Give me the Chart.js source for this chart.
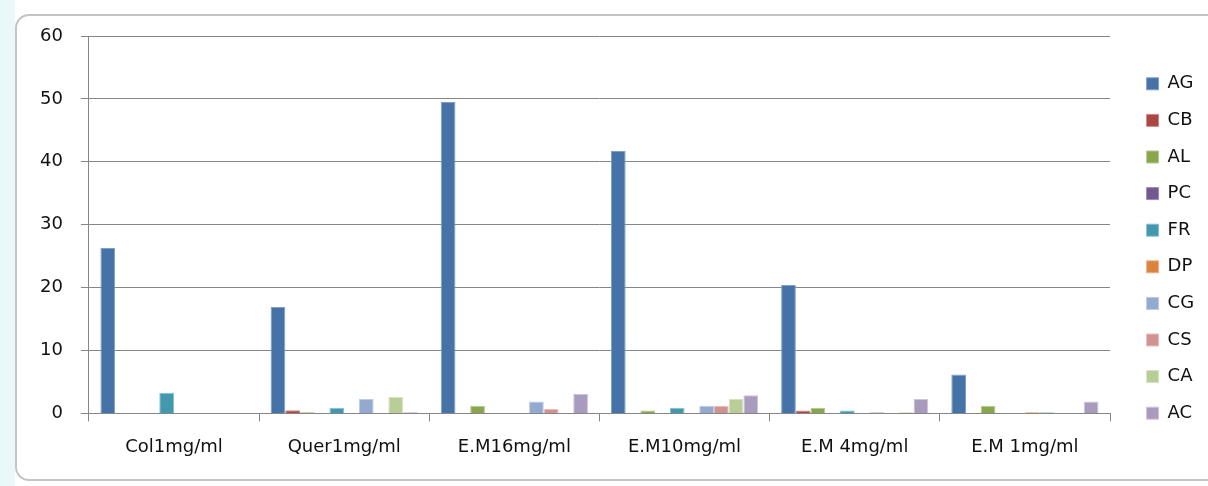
<!DOCTYPE html>
<html>
<head>
<meta charset="utf-8">
<script src="https://cdn.jsdelivr.net/npm/chart.js@4.4.1/dist/chart.umd.min.js"></script>
<style>
  html, body { margin: 0; padding: 0; background: #ffffff; }
  body { width: 1208px; height: 486px; position: relative; overflow: hidden; }
  #strip { position: absolute; left: 0; top: 0; width: 15px; height: 486px; background: #eaf8fb; }
  #frame { position: absolute; left: 15px; top: 14px; width: 1220px; height: 467px;
           border: 2px solid #c4c4c4; border-radius: 14px; background: #fff; box-sizing: border-box; }
  #wrap { position: absolute; left: 0; top: 0; width: 1208px; height: 486px; }
</style>
</head>
<body>
<div id="strip"></div>
<div id="frame"></div>
<div id="wrap"><canvas id="c" width="1208" height="486"></canvas></div>
<script>
const categories = ["Col1mg/ml", "Quer1mg/ml", "E.M16mg/ml", "E.M10mg/ml", "E.M 4mg/ml", "E.M 1mg/ml"];
const seriesNames = ["AG", "CB", "AL", "PC", "FR", "DP", "CG", "CS", "CA", "AC"];
const AG = [26.3, 16.9, 49.5, 41.7, 20.4, 6.2];
const CB = [0, 0.5, 0, 0, 0.45, 0];
const AL = [0, 0.2, 1.2, 0.45, 0.9, 1.2];
const PC = [0, 0, 0, 0, 0, 0];
const FR = [3.3, 0.9, 0, 0.9, 0.45, 0];
const DP = [0, 0, 0, 0, 0, 0.2];
const CG = [0, 2.3, 1.9, 1.2, 0.2, 0.2];
const CS = [0, 0, 0.7, 1.2, 0, 0];
const CA = [0, 2.6, 0, 2.3, 0.2, 0];
const AC = [0, 0.2, 3.1, 2.9, 2.3, 1.9];
const yTicks = [0, 10, 20, 30, 40, 50, 60];

const values = [AG, CB, AL, PC, FR, DP, CG, CS, CA, AC];
const colors = ["#4572A7", "#AA4643", "#89A54E", "#71588F", "#4198AF", "#DB843D", "#93A9CF", "#D19392", "#B9CD96", "#A99BBD"];
const borders = ["#7f9fc8", "#c98a88", "#b3c98c", "#9d89b5", "#86c0cf", "#eab28a", "#bccbe4", "#e6bdbc", "#d6e3c0", "#cdc3da"];

const datasets = seriesNames.map((n, i) => ({
  label: n,
  data: values[i],
  backgroundColor: colors[i],
  borderColor: borders[i],
  borderWidth: 1,
  barPercentage: 1.0,
  categoryPercentage: 0.865
}));

const FONT = "'DejaVu Sans', Verdana, sans-serif";
const TXT = '#111111';

const legendFix = {
  id: 'legendFix',
  afterInit(chart) {
    const lg = chart.legend;
    const f = lg.fit.bind(lg);
    lg.fit = function () { f(); this.width = 98; };
  },
  afterLayout(chart) {
    const lg = chart.legend;
    lg.left += 18; lg.right += 18;
    lg.top -= 6; lg.bottom -= 6;
  }
};

new Chart(document.getElementById('c'), {
  type: 'bar',
  data: { labels: categories, datasets },
  plugins: [legendFix],
  options: {
    responsive: false,
    animation: false,
    devicePixelRatio: 1,
    layout: { padding: { left: 22, top: 36, right: 0, bottom: 13 } },
    plugins: {
      tooltip: { enabled: false },
      legend: {
        position: 'right',
        align: 'center',
        labels: {
          boxWidth: 12, boxHeight: 12, padding: 18.6,
          color: TXT,
          font: { family: FONT, size: 18 }
        }
      }
    },
    scales: {
      x: {
        grid: { display: true, drawOnChartArea: false, drawTicks: true, tickLength: 8, color: '#868686', offset: true },
        border: { display: true, color: '#868686', width: 1 },
        ticks: { color: TXT, font: { family: FONT, size: 18 }, padding: 15, maxRotation: 0 }
      },
      y: {
        min: 0, max: 60,
        afterBuildTicks: (ax) => { ax.ticks = yTicks.map(v => ({ value: v })); },
        grid: { color: '#868686', lineWidth: 1, tickLength: 8, drawTicks: true },
        border: { display: true, color: '#868686', width: 1 },
        ticks: { color: TXT, font: { family: FONT, size: 18 }, padding: 18 }
      }
    }
  }
});
</script>
</body>
</html>
